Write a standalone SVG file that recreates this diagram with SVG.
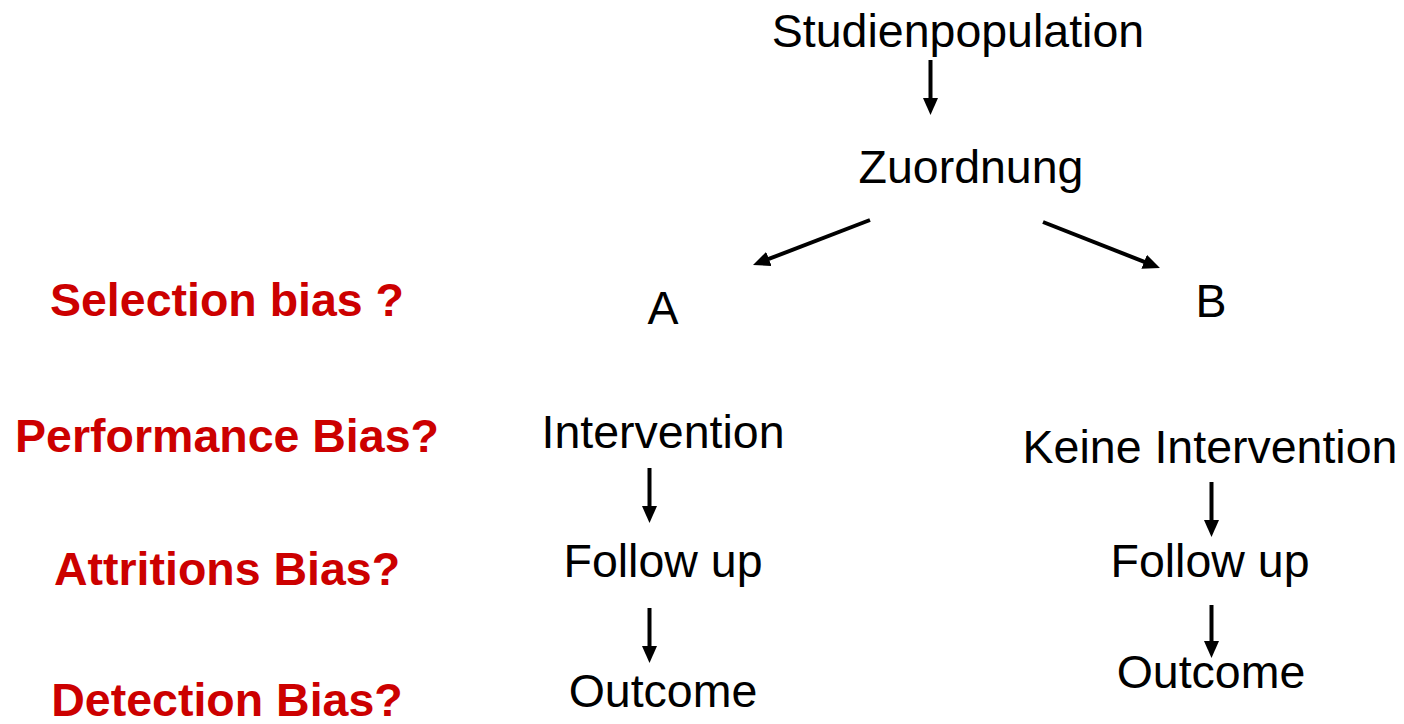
<svg xmlns="http://www.w3.org/2000/svg" width="1404" height="724" viewBox="0 0 1404 724">
<style>
.t{font-family:"Liberation Sans",Arial,sans-serif;font-size:46.5px;fill:#000;text-anchor:middle}
.r{font-family:"Liberation Sans",Arial,sans-serif;font-size:46.5px;font-weight:bold;fill:#CC0000;text-anchor:middle}
.c{stroke:#000;stroke-width:4;fill:none;marker-end:url(#ah)}
</style>
<defs>
<marker id="ah" markerUnits="userSpaceOnUse" markerWidth="17" markerHeight="15" refX="5" refY="7.5" orient="auto" viewBox="0 0 17 15">
<path d="M0,0 L17,7.5 L0,15 z" fill="#000"/>
</marker>
</defs>
<rect width="1404" height="724" fill="#fff"/>
<g id="labels">
<text class="r" x="227" y="316">Selection bias ?</text>
<text class="r" x="227" y="452">Performance Bias?</text>
<text class="r" x="227" y="585">Attritions Bias?</text>
<text class="r" x="227" y="716">Detection Bias?</text>
</g>
<g id="studienpopulation"><text class="t" x="958" y="47">Studienpopulation</text></g>
<g id="zuordnung"><text class="t" x="971" y="183">Zuordnung</text></g>
<g id="a"><text class="t" x="663" y="324">A</text></g>
<g id="b"><text class="t" x="1211" y="317">B</text></g>
<g id="intervention"><text class="t" x="663" y="448">Intervention</text></g>
<g id="followup-a"><text class="t" x="663" y="577">Follow up</text></g>
<g id="outcome-a"><text class="t" x="663" y="707">Outcome</text></g>
<g id="keine-intervention"><text class="t" x="1210" y="463">Keine Intervention</text></g>
<g id="followup-b"><text class="t" x="1210" y="577">Follow up</text></g>
<g id="outcome-b"><text class="t" x="1211" y="688">Outcome</text></g>
<g id="connectors">
<line class="c" x1="930.5" y1="60" x2="930.5" y2="103"/>
<line class="c" x1="870" y1="220" x2="764.2" y2="260.7"/>
<line class="c" x1="1043" y1="222" x2="1148.8" y2="263.6"/>
<line class="c" x1="649.5" y1="468" x2="649.5" y2="511"/>
<line class="c" x1="649.5" y1="608" x2="649.5" y2="651"/>
<line class="c" x1="1211.5" y1="482" x2="1211.5" y2="525"/>
<line class="c" x1="1211.5" y1="605" x2="1211.5" y2="646"/>
</g>
</svg>
